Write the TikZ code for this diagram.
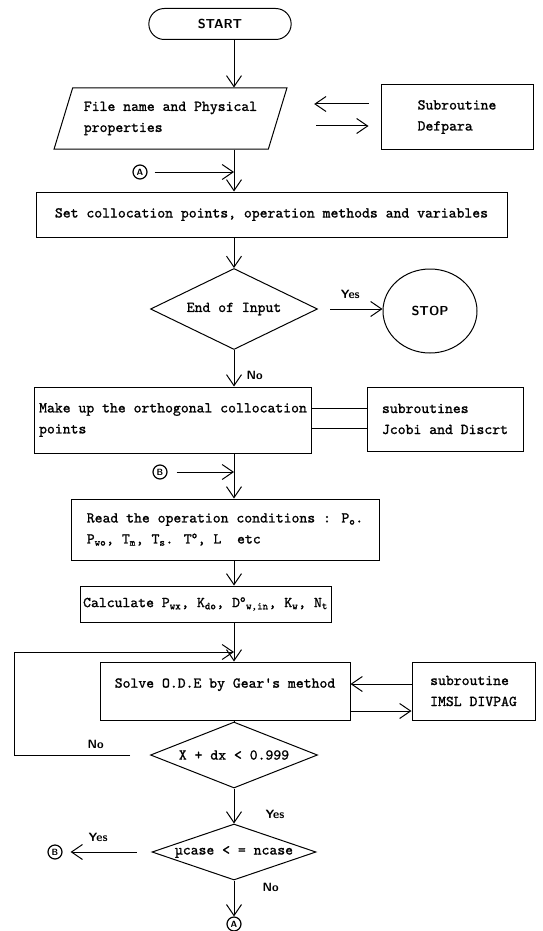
\documentclass[tikz,border=0pt]{standalone}
\usepackage{fontspec}
\newfontfamily\flowfont[FakeBold=1.2]{lmmono10-regular.otf}
\usepackage{tikz}
\usetikzlibrary{arrows.meta,positioning,calc,shapes.geometric,shapes.misc}

\begin{document}
\begin{tikzpicture}[
    x=1pt, y=-1pt,
    every node/.style={font=\flowfont\fontsize{15}{21}\selectfont},
    box/.style={draw, line width=1pt, inner sep=3pt},
    io/.style={draw, line width=1pt, trapezium, trapezium left angle=67,
      trapezium right angle=113, trapezium stretches=true},
    decision/.style={draw, line width=1pt, diamond, inner sep=0pt},
    terminal/.style={draw, line width=1pt, rounded rectangle,
      font=\sffamily\bfseries\fontsize{13}{15}\selectfont},
    stopnode/.style={draw, line width=1pt, ellipse,
      font=\sffamily\bfseries\fontsize{13}{15}\selectfont},
    conn/.style={draw, circle, line width=1.2pt, inner sep=0pt, minimum size=14pt,
      font=\sffamily\bfseries\fontsize{9}{9}\selectfont},
    flow/.style={draw, line width=1pt, -{Straight Barb[length=11pt,width=15pt]}},
    link/.style={draw, line width=1pt},
    lbl/.style={font=\sffamily\bfseries\fontsize{12}{14}\selectfont, inner sep=0pt}
  ]
  \useasboundingbox (0,0) rectangle (543,931);

  % Main axis
  \coordinate (ax) at (234,0);
  \coordinate (loop) at (14,652);

  % Nodes
  \node[terminal, minimum width=149pt, minimum height=31pt] (start) at (220,24) {START};
  \node[io, minimum width=233pt, minimum height=61pt, align=left] (input) at (170.5,118.5)
    {File name and Physical\\properties};
  \node[box, minimum width=152pt, minimum height=64pt, align=left] (defpara) at (457,117)
    {Subroutine\\Defpara};
  \node[conn] (ca1) at (140,172) {A};
  \node[box, minimum width=471pt, minimum height=45pt] (set) at (271.5,214.5)
    {Set collocation points, operation methods and variables};
  \node[decision, minimum width=167pt, minimum height=81pt,
    label={center:{End of Input}}] (endin) at (234,309) {};
  \node[stopnode, minimum width=94pt, minimum height=84pt] (stop) at (430,311) {STOP};
  \node[box, minimum width=270pt, minimum height=66pt, inner xsep=5pt, align=left] (make) at (173,420)
    {Make up the orthogonal collocation\\points};
  \node[box, minimum width=156pt, minimum height=64pt, align=left] (jcobi) at (445,419)
    {subroutines\\Jcobi and Discrt};
  \node[conn] (cb1) at (160,472) {B};
  \node[box, minimum width=308pt, minimum height=61pt, align=left] (read) at (225,529.5)
    {Read the operation conditions : P\textsubscript{o}.\\
     P\textsubscript{wo}, T\textsubscript{m}, T\textsubscript{s}. T\textsuperscript{o}, L\ \ etc};
  \node[box, minimum width=251pt, minimum height=36pt] (calc) at (205.5,604)
    {Calculate P\textsubscript{wx}, K\textsubscript{do}, D\textsuperscript{o}\textsubscript{w,in}, K\textsubscript{w}, N\textsubscript{t}};
  \node[box, minimum width=250pt, minimum height=58pt, text depth=16pt] (solve) at (225,691)
    {Solve O.D.E by Gear's method};
  \node[box, minimum width=123pt, minimum height=58pt, align=left] (imsl) at (473.5,691)
    {subroutine\\IMSL DIVPAG};
  \node[decision, minimum width=167pt, minimum height=66pt,
    label={center:{X + dx < 0.999}}] (tol) at (234,755) {};
  \node[decision, minimum width=164pt, minimum height=56pt,
    label={center:{µcase < = ncase}}] (ncase) at (234,852) {};
  \node[conn] (cb2) at (55,852) {B};
  \node[conn] (ca2) at (234,924) {A};

  % Main flow
  \draw[flow] (start.south -| ax) -- (input.north -| ax);
  \draw[flow] (input.south -| ax) -- (set.north -| ax);
  \draw[flow, shorten <=7pt] (ca1.east) -- (ca1.east -| ax);
  \draw[flow] (set.south -| ax) -- (endin.north);
  \draw[flow, shorten <=12pt] (endin.east) -- (endin.east -| stop.west)
    node[lbl, midway, above=10pt] (yes1) {Yes};
  \draw[flow] (endin.south) -- (make.north -| ax)
    node[lbl, pos=0.7, right=12pt] (no1) {No};
  \draw[flow] (make.south -| ax) -- (read.north -| ax);
  \draw[flow, shorten <=9pt] (cb1.east) -- (cb1.east -| ax);
  \draw[flow] (read.south -| ax) -- (calc.north -| ax);
  \draw[flow] (calc.south -| ax) -- (solve.north -| ax);
  \draw[link] (solve.south -| ax) -- (tol.north);
  \draw[flow, shorten <=20pt] (tol.west)
    -- node[lbl, pos=0.4, above=6pt] (no2) {No} (tol.west -| loop)
    -- (loop) -- (loop -| ax);
  \draw[flow] (tol.south) -- (ncase.north)
    node[lbl, pos=0.75, right=31pt] (yes2) {Yes};
  \draw[flow, shorten <=15pt, shorten >=8pt] (ncase.west) -- (cb2.east)
    node[lbl, pos=0.6, above=10pt] (yes3) {Yes};
  \draw[flow] (ncase.south) -- (ca2.north)
    node[lbl, pos=0.2, right=28pt] (no3) {No};

  % Subroutine links
  \draw[flow, shorten <=12pt, shorten >=36pt] ($(defpara.west)+(0,-13)$)
    -- ($(defpara.west -| input.east)+(0,-13)$);
  \draw[flow, shorten <=38pt, shorten >=12pt] ($(defpara.west -| input.east)+(0,9)$)
    -- ($(defpara.west)+(0,9)$);
  \draw[link] ($(make.east)+(0,-12)$) -- ($(make.east -| jcobi.west)+(0,-12)$);
  \draw[link] ($(make.east)+(0,8)$) -- ($(make.east -| jcobi.west)+(0,8)$);
  \draw[flow] ($(imsl.west)+(0,-7)$) -- ($(solve.east)+(0,-7)$);
  \draw[flow] ($(solve.east)+(0,20)$) -- ($(imsl.west)+(0,20)$);

\end{tikzpicture}
\end{document}
